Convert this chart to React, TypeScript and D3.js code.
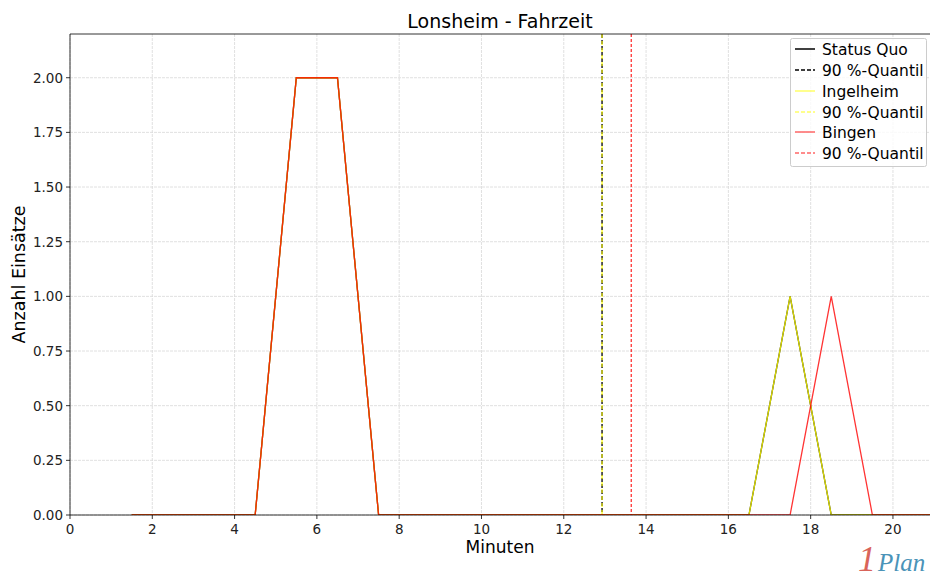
import React from "react";
import * as d3 from "d3";

const minutes = [1.5, 2.5, 3.5, 4.5, 5.5, 6.5, 7.5, 8.5, 9.5, 10.5, 11.5, 12.5, 13.5, 14.5, 15.5, 16.5, 17.5, 18.5, 19.5, 20.5, 21.5];
const statusQuo = [0, 0, 0, 0, 2, 2, 0, 0, 0, 0, 0, 0, 0, 0, 0, 0, 1, 0, 0, 0, 0];
const ingelheim = [0, 0, 0, 0, 2, 2, 0, 0, 0, 0, 0, 0, 0, 0, 0, 0, 1, 0, 0, 0, 0];
const bingen = [0, 0, 0, 0, 2, 2, 0, 0, 0, 0, 0, 0, 0, 0, 0, 0, 0, 1, 0, 0, 0];
const quantiles = [12.93, 12.93, 13.64];
const seriesNames = ["Status Quo", "Ingelheim", "Bingen"];
const xTicks = [0, 2, 4, 6, 8, 10, 12, 14, 16, 18, 20];
const yTicks = [0, 0.25, 0.5, 0.75, 1.0, 1.25, 1.5, 1.75, 2.0];

const W = 930, H = 583;
const L = 70, R = 930, T = 34, B = 515;
const font = "DejaVu Sans, sans-serif";

export default function App() {
  const x = d3.scaleLinear().domain([0, 20.9]).range([L, R]);
  const y = d3.scaleLinear().domain([0, 2.2]).range([B, T]);
  const line = d3.line<[number, number]>().x(d => x(d[0])).y(d => y(d[1]));
  const data = [statusQuo, ingelheim, bingen];
  const colors = ["#000000", "#ffff00", "#ff0000"];
  const opac = [1, 0.85, 0.8];
  const dashes = ["4,2", "4,3", "3,2"];
  const legendY = [49, 70, 91, 112, 132, 153];

  return (
    <svg width={W} height={H} style={{ position: "absolute", left: 0, top: 0, background: "#fff" }} fontFamily={font}>
      <defs>
        <clipPath id="plot"><rect x={L} y={T} width={R - L} height={B - T} /></clipPath>
      </defs>
      <rect x={0} y={0} width={W} height={H} fill="#fff" />
      {xTicks.map(t => (
        <line key={"gx" + t} x1={x(t)} x2={x(t)} y1={T} y2={B} stroke="#d8d8d8" strokeWidth={0.8} strokeDasharray="3,1" />
      ))}
      {yTicks.map(t => (
        <line key={"gy" + t} x1={L} x2={R} y1={y(t)} y2={y(t)} stroke="#d8d8d8" strokeWidth={0.8} strokeDasharray="3,1" />
      ))}
      <g clipPath="url(#plot)">
        {data.map((s, i) => (
          <g key={i}>
            <path d={line(minutes.map((m, j) => [m, s[j]] as [number, number])) || ""} fill="none" stroke={colors[i]} strokeOpacity={opac[i]} strokeWidth={1.3} />
            <line x1={x(quantiles[i])} x2={x(quantiles[i])} y1={T} y2={B} stroke={colors[i]} strokeOpacity={opac[i]} strokeWidth={1.3} strokeDasharray={dashes[i]} />
          </g>
        ))}
      </g>
      <line x1={L} x2={L} y1={T} y2={B} stroke="#000" strokeWidth={0.8} />
      <line x1={L} x2={R} y1={B} y2={B} stroke="#000" strokeWidth={0.8} />
      <line x1={L} x2={R} y1={T} y2={T} stroke="#000" strokeWidth={0.8} />
      {xTicks.map(t => (
        <g key={"xt" + t}>
          <line x1={x(t)} x2={x(t)} y1={B} y2={B + 4} stroke="#000" strokeWidth={0.8} />
          <text x={x(t)} y={B + 19} fontSize={13.5} textAnchor="middle" fill="#222">{t}</text>
        </g>
      ))}
      {yTicks.map(t => (
        <g key={"yt" + t}>
          <line x1={L - 4} x2={L} y1={y(t)} y2={y(t)} stroke="#000" strokeWidth={0.8} />
          <text x={L - 7} y={y(t) + 5} fontSize={13.5} textAnchor="end" fill="#222">{t.toFixed(2)}</text>
        </g>
      ))}
      <text x={(L + R) / 2} y={28} fontSize={19} textAnchor="middle" fill="#000">Lonsheim - Fahrzeit</text>
      <text x={(L + R) / 2} y={553} fontSize={17} textAnchor="middle" fill="#000">Minuten</text>
      <text transform={`translate(25,${(T + B) / 2}) rotate(-90)`} fontSize={17.5} textAnchor="middle" fill="#000">Anzahl Einsätze</text>
      <rect x={790.5} y={38.5} width={136} height={128} fill="#fff" fillOpacity={0.8} stroke="#ccc" rx={2} />
      {seriesNames.map((n, i) => (
        <g key={"lg" + i}>
          <line x1={795} x2={815} y1={legendY[i * 2]} y2={legendY[i * 2]} stroke={colors[i]} strokeOpacity={i === 0 ? 1 : 0.6} strokeWidth={1.5} />
          <text x={822} y={legendY[i * 2] + 5.5} fontSize={15.5} fill="#000">{n}</text>
          <line x1={795} x2={815} y1={legendY[i * 2 + 1]} y2={legendY[i * 2 + 1]} stroke={colors[i]} strokeOpacity={i === 0 ? 1 : 0.6} strokeWidth={1.5} strokeDasharray="4,2" />
          <text x={822} y={legendY[i * 2 + 1] + 5.5} fontSize={15.5} fill="#000">90 %-Quantil</text>
        </g>
      ))}
      <text x={858} y={571} fontSize={36} fontStyle="italic" fontFamily="Liberation Serif, serif" fill="#d9645a">1</text>
      <text x={878} y={571} fontSize={25} fontStyle="italic" fontFamily="Liberation Serif, serif" fill="#4a93b8">Plan</text>
    </svg>
  );
}
